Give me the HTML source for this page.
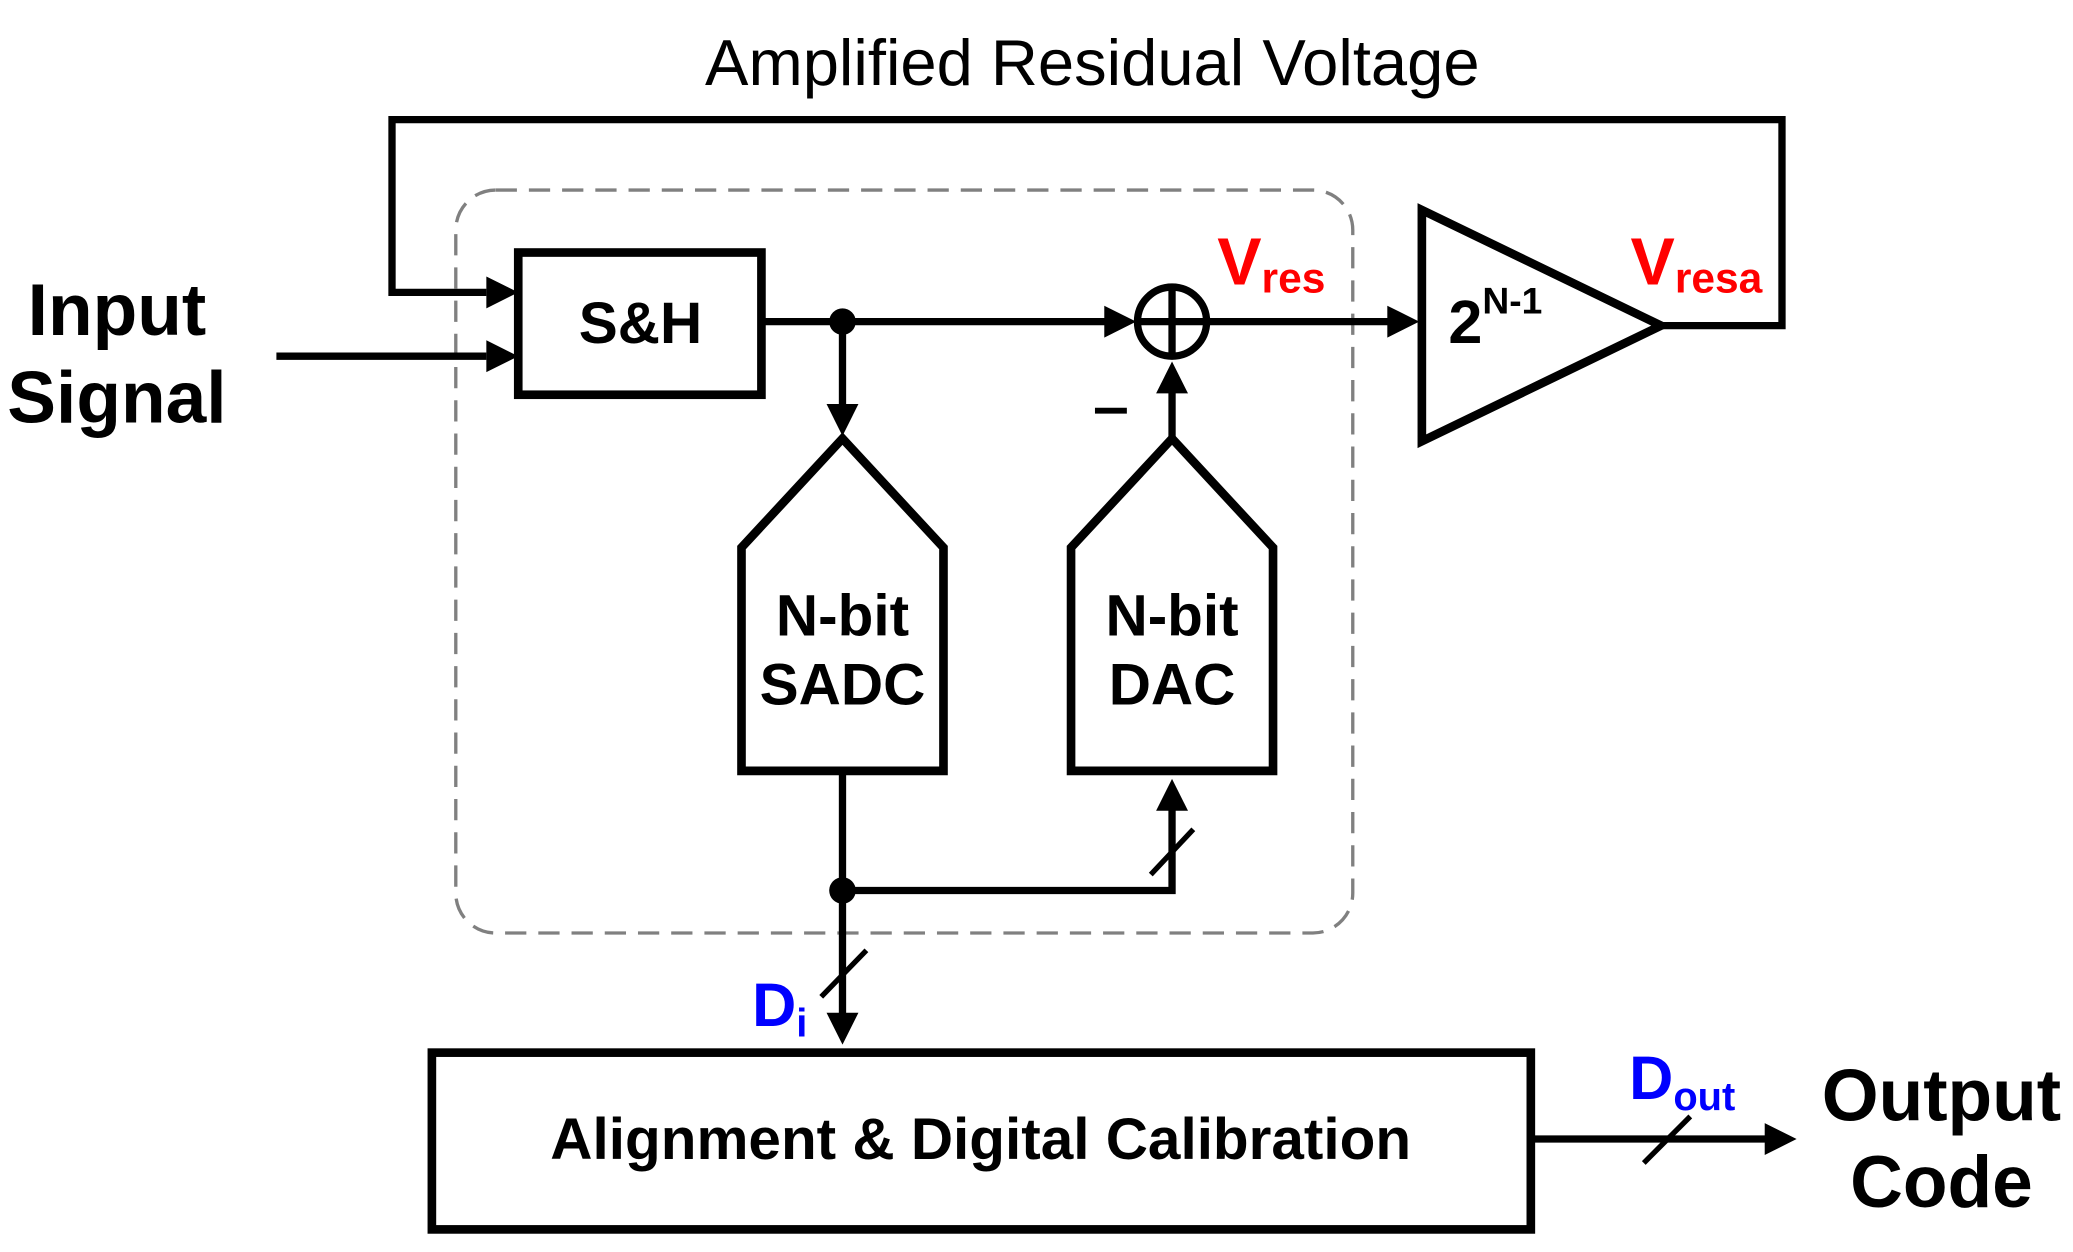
<!DOCTYPE html>
<html><head><style>html,body{margin:0;padding:0;background:#fff}svg{display:block}</style></head><body>
<svg width="2073" height="1252" viewBox="0 0 1560 942" preserveAspectRatio="none" xmlns="http://www.w3.org/2000/svg" font-family="Liberation Sans, Arial, sans-serif">
<g fill="none" stroke="#000" stroke-width="5.5">
<rect x="343" y="143" width="675" height="559" rx="30" stroke="#808080" stroke-width="2.5" stroke-dasharray="16 9"/>
<polyline points="1250,245 1341,245 1341,90 295,90 295,220 366,220"/>
<path d="M366,208 L390,220 L366,232 z" fill="#000" stroke="none"/>
<line x1="208" y1="268" x2="366" y2="268"/>
<path d="M366,256 L390,268 L366,280 z" fill="#000" stroke="none"/>
<rect x="390" y="190" width="183" height="107" stroke-width="6.5"/>
<line x1="573" y1="242" x2="833" y2="242"/>
<path d="M831,230 L855,242 L831,254 z" fill="#000" stroke="none"/>
<circle cx="882" cy="242" r="26" stroke-width="5.5"/>
<line x1="856" y1="242" x2="908" y2="242"/>
<line x1="882" y1="216" x2="882" y2="268"/>
<line x1="909" y1="242" x2="1046" y2="242"/>
<path d="M1044,230 L1068,242 L1044,254 z" fill="#000" stroke="none"/>
<polygon points="1070,158 1070,332 1250,245" stroke-width="6.5"/>
<line x1="634" y1="242" x2="634" y2="308"/>
<path d="M622,304 L634,328 L646,304 z" fill="#000" stroke="none"/>
<polygon points="634,330 710,412 710,580 558,580 558,412" stroke-width="6.5"/>
<polygon points="882,330 958,412 958,580 806,580 806,412" stroke-width="6.5"/>
<line x1="882" y1="330" x2="882" y2="292"/>
<path d="M870,296 L882,272 L894,296 z" fill="#000" stroke="none"/>
<line x1="634" y1="583" x2="634" y2="765"/>
<path d="M622,762 L634,786 L646,762 z" fill="#000" stroke="none"/>
<polyline points="634,670 882,670 882,608"/>
<path d="M870,610 L882,586 L894,610 z" fill="#000" stroke="none"/>
<line x1="866" y1="658" x2="898" y2="624" stroke-width="4"/>
<line x1="618" y1="750" x2="652" y2="715" stroke-width="4"/>
<rect x="325" y="792" width="827" height="133" stroke-width="6.5"/>
<line x1="1152" y1="857" x2="1330" y2="857"/>
<path d="M1328,845 L1352,857 L1328,869 z" fill="#000" stroke="none"/>
<line x1="1237" y1="875" x2="1272" y2="840" stroke-width="4"/>
<line x1="824" y1="309" x2="848" y2="309" stroke-width="4.5"/>
</g>
<circle cx="634" cy="242" r="10" fill="#000"/>
<circle cx="634" cy="670" r="10" fill="#000"/>
<text x="822" y="64" font-size="49" text-anchor="middle">Amplified Residual Voltage</text>
<g font-weight="bold" text-anchor="middle">
<text x="88" y="252" font-size="55">Input</text>
<text x="88" y="318" font-size="55">Signal</text>
<text x="482" y="258" font-size="44">S&amp;H</text>
<text x="634" y="478" font-size="44">N-bit</text>
<text x="634" y="530" font-size="44">SADC</text>
<text x="882" y="478" font-size="44">N-bit</text>
<text x="882" y="530" font-size="44">DAC</text>
<text x="738" y="872" font-size="44">Alignment &amp; Digital Calibration</text>
<text x="1461" y="843" font-size="55">Output</text>
<text x="1461" y="908" font-size="55">Code</text>
</g>
<g font-weight="bold">
<text x="1090" y="258" font-size="46">2<tspan font-size="28" dy="-22">N-1</tspan></text>
<text x="916" y="214" font-size="50" fill="#ff0000">V<tspan font-size="32" dy="6">res</tspan></text>
<text x="1227" y="214" font-size="50" fill="#ff0000">V<tspan font-size="32" dy="6">resa</tspan></text>
<text x="566" y="772" font-size="46" fill="#0000ff">D<tspan font-size="30" dy="8">i</tspan></text>
<text x="1226" y="827" font-size="46" fill="#0000ff">D<tspan font-size="30" dy="8">out</tspan></text>
</g>
</svg>
</body></html>
